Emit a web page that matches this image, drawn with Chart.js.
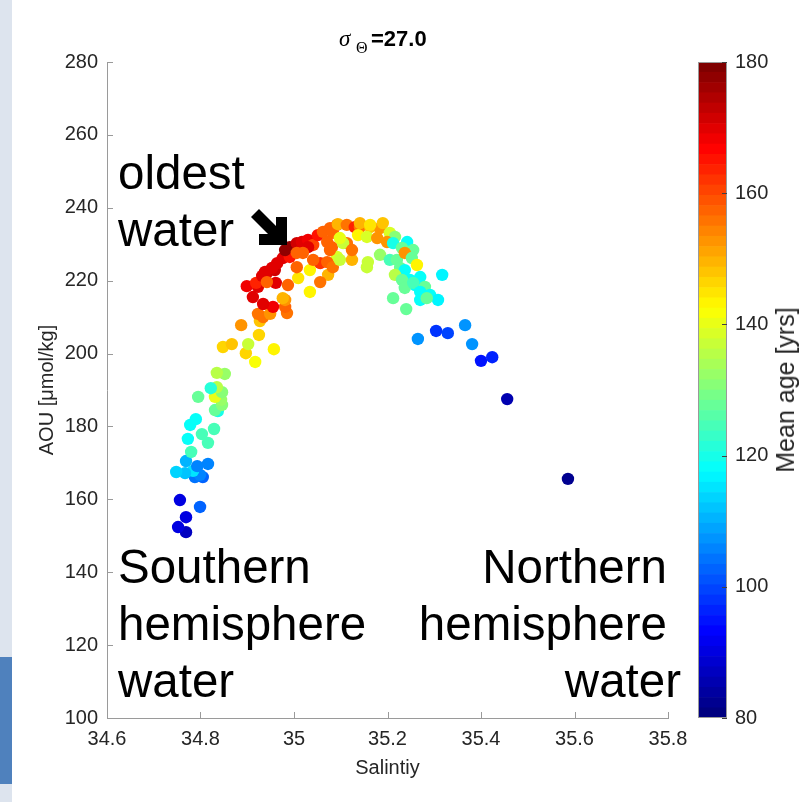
<!DOCTYPE html>
<html><head><meta charset="utf-8">
<script src="https://cdn.jsdelivr.net/npm/chart.js@4.4.0/dist/chart.umd.min.js"></script>
<style>
html,body{margin:0;padding:0;background:#fff;width:810px;height:802px;overflow:hidden;position:relative;font-family:"Liberation Sans",Arial,sans-serif}
#strip{position:absolute;left:0;top:0;width:12px;height:802px;background:#dde4ee}
#blue{position:absolute;left:0;top:657px;width:12px;height:127px;background:#4f81bd}
#mainWrap{position:absolute;left:0;top:0;width:810px;height:802px}
#cbWrap{position:absolute;left:690px;top:0;width:120px;height:802px}
.ann{position:absolute;font-size:47.5px;line-height:57px;color:#000;white-space:nowrap}
.t{position:absolute;white-space:nowrap;color:#000}
#cblab{position:absolute;left:785px;top:390px;transform:translate(-50%,-50%) rotate(-90deg);font-size:25px;color:#262626;white-space:nowrap;line-height:30px}
#arrow{position:absolute;left:251px;top:209px;width:36px;height:36px}
</style></head>
<body>
<div id="strip"></div><div id="blue"></div>
<div id="mainWrap"><canvas id="c1"></canvas></div>
<div id="cbWrap"><canvas id="c2"></canvas></div>
<div class="t" style="left:339px;top:28px;font:italic 23px/22px 'Liberation Serif',serif">σ</div>
<div class="t" style="left:356px;top:39.6px;font:16px/16px 'Liberation Serif',serif">Θ</div>
<div class="t" style="left:371px;top:28.4px;font:bold 22px/22px 'Liberation Sans',Arial,sans-serif">=27.0</div>
<div class="ann" style="left:118px;top:144px">oldest<br>water</div>
<svg id="arrow" viewBox="0 0 36 36"><polygon points="0,8 8,0 25,17 25,8 36,8 36,36 8,36 8,25 17,25" fill="#000"/></svg>
<div class="ann" style="left:118px;top:538px">Southern<br>hemisphere<br>water</div>
<div class="ann" style="right:143px;top:538px;text-align:right">Northern<br>hemisphere</div>
<div class="ann" style="right:129px;top:652px;text-align:right">water</div>
<div id="cblab">Mean age [yrs]</div>
<script>
// ---- data ----
const salinity = [34.769,34.752,34.769,34.756,34.799,34.805,34.788,34.799,34.784,34.767,34.748,34.816,34.793,34.769,34.780,34.816,34.773,34.803,34.829,34.778,34.790,34.837,34.831,34.846,34.844,34.831,34.795,34.846,34.835,34.822,34.852,34.835,
34.848,34.867,34.897,34.902,34.917,34.957,34.925,34.887,34.927,34.923,34.934,34.949,34.985,34.981,34.981,34.955,34.934,34.912,34.899,34.923,34.919,34.932,34.942,34.959,34.961,34.938,34.964,34.976,34.991,34.981,34.991,35.006,35.017,35.030,35.041,35.051,35.062,35.077,35.092,35.083,35.071,35.081,35.092,35.030,35.019,35.006,34.953,35.034,35.009,35.034,35.073,35.056,35.056,35.041,35.071,35.083,34.976,34.987,34.942,35.006,
35.094,35.113,35.130,35.141,35.163,35.184,35.141,35.163,35.190,35.205,35.216,35.242,35.255,35.137,35.156,35.178,35.199,35.212,35.231,35.244,35.113,35.105,35.098,35.124,35.077,35.124,35.158,35.156,35.184,35.205,35.220,35.237,35.252,35.263,35.227,35.237,35.216,35.248,35.270,35.317,35.231,35.259,35.237,35.280,35.255,35.270,35.291,35.270,35.308,35.212,35.240,35.284,
35.304,35.329,35.366,35.265,35.381,35.400,35.424,35.456,35.586,35.098];
const aou = [151.0,152.4,155.1,159.8,157.9,166.1,166.1,166.7,167.8,167.2,167.5,169.7,169.1,170.5,173.0,175.5,176.6,177.9,179.3,180.4,182.0,184.2,184.5,185.9,187.3,188.1,188.1,189.4,190.8,190.5,194.4,194.7,
201.8,202.6,200.1,202.6,197.7,201.2,205.1,207.8,208.9,210.9,210.0,210.9,211.1,212.8,214.7,212.8,213.6,215.5,218.5,218.3,219.4,221.3,222.1,222.9,219.4,222.4,224.8,226.2,226.5,228.4,229.2,230.3,230.6,231.2,229.8,232.5,233.4,234.4,235.3,233.1,230.6,229.2,226.5,229.2,227.6,227.6,223.5,222.9,220.7,216.9,221.6,219.6,224.8,225.7,225.1,223.7,215.2,218.8,219.6,223.7,
235.5,235.3,234.7,234.7,234.7,234.4,235.8,235.3,235.8,233.1,232.0,230.6,228.4,232.5,232.0,231.7,230.6,230.3,229.0,227.9,230.3,230.3,225.7,225.7,228.4,228.4,225.1,223.7,227.1,225.7,225.7,227.6,226.2,224.3,223.5,222.9,221.6,220.2,221.0,221.6,220.2,218.8,218.0,218.3,219.4,216.9,216.1,214.7,214.7,215.2,212.2,215.2,
206.2,205.6,207.8,204.0,202.6,198.0,199.0,187.5,165.6,231.7];
const meanAge = [87,90,90,90,102,103,104,105,115,112,113,106,106,110,125,124,118,125,125,118,118,120,128,130,132,140,127,130,135,122,132,135,
147,148,147,137,142,143,147,152,148,155,155,152,155,157,152,168,170,170,168,170,163,170,170,172,170,170,170,170,165,178,178,172,170,168,160,165,158,158,157,158,157,158,138,170,158,157,170,143,145,143,150,155,162,158,157,155,150,157,157,158,
150,155,163,155,148,153,150,145,148,138,130,118,128,143,138,153,153,120,128,128,155,137,137,150,157,155,137,137,133,125,128,152,127,143,128,118,135,118,118,117,128,118,128,128,125,118,118,118,117,127,128,127,
98,100,108,108,107,95,97,85,82,140];
const xTicks = [34.6,34.8,35.0,35.2,35.4,35.6,35.8];
const xTickLabels = ['34.6','34.8','35','35.2','35.4','35.6','35.8'];
const yTicks = [100,120,140,160,180,200,220,240,260,280];
const cTicks = [80,100,120,140,160,180];
const ageMin = 80, ageMax = 180, nColors = 64;

// ---- jet colormap ----
function jet(t){
  const c = v => Math.max(0, Math.min(1, v));
  const r = c(1.5 - Math.abs(4*t - 3)), g = c(1.5 - Math.abs(4*t - 2)), b = c(1.5 - Math.abs(4*t - 1));
  return 'rgb(' + Math.round(255*r) + ',' + Math.round(255*g) + ',' + Math.round(255*b) + ')';
}
function ageColor(a){
  let i = Math.floor((a - ageMin) / (ageMax - ageMin) * nColors);
  i = Math.max(0, Math.min(nColors - 1, i));
  return jet(i / (nColors - 1));
}

Chart.defaults.font.family = "'Liberation Sans', Arial, sans-serif";
const AXC = '#9a9a9a', TXT = '#262626';

const points = salinity.map((s, i) => ({x: s, y: aou[i]}));
const colors = meanAge.map(ageColor);

const inTicks = {
  id: 'inTicks',
  afterDraw(chart){
    const {ctx, chartArea: a, scales: {x, y}} = chart;
    ctx.save(); ctx.strokeStyle = AXC; ctx.lineWidth = 1;
    x.ticks.forEach(t => { const p = Math.round(x.getPixelForValue(t.value)) + 0.5; ctx.beginPath(); ctx.moveTo(p, a.bottom); ctx.lineTo(p, a.bottom - 6); ctx.stroke(); });
    y.ticks.forEach(t => { const p = Math.round(y.getPixelForValue(t.value)) + 0.5; ctx.beginPath(); ctx.moveTo(a.left, p); ctx.lineTo(a.left + 6, p); ctx.stroke(); });
    ctx.restore();
  }
};

new Chart(document.getElementById('c1'), {
  type: 'scatter',
  data: { datasets: [{ data: points, pointBackgroundColor: colors, pointBorderWidth: 0, pointRadius: 6.2, pointHoverRadius: 6.2, showLine: false }] },
  options: {
    responsive: true, maintainAspectRatio: false, animation: false,
    layout: { padding: { left: 0, top: 62, right: 142, bottom: 0 } },
    plugins: { legend: { display: false }, tooltip: { enabled: false } },
    scales: {
      x: {
        type: 'linear', position: 'bottom', min: 34.6, max: 35.8,
        afterBuildTicks: s => { s.ticks = xTicks.map(v => ({value: v})); },
        ticks: { callback: (v, i) => xTickLabels[i], font: { size: 20 }, color: TXT, padding: 9, maxRotation: 0, autoSkip: false },
        grid: { display: true, drawOnChartArea: false, drawTicks: false },
        border: { display: true, color: AXC, width: 1 },
        title: { display: true, text: 'Salintiy', font: { size: 20 }, color: TXT, padding: { top: 0, bottom: 22 } },
        afterFit: s => { s.height = 84; s.paddingLeft = 0; s.paddingRight = 0; }
      },
      y: {
        type: 'linear', position: 'left', min: 100, max: 280,
        afterBuildTicks: s => { s.ticks = yTicks.map(v => ({value: v})); },
        ticks: { callback: v => String(v), font: { size: 20 }, color: TXT, padding: 9, autoSkip: false },
        grid: { display: true, drawOnChartArea: false, drawTicks: false },
        border: { display: true, color: AXC, width: 1 },
        title: { display: true, text: 'AOU [μmol/kg]', font: { size: 20 }, color: TXT, padding: { top: 35, bottom: 0 } },
        afterFit: s => { s.width = 107; s.paddingTop = 0; s.paddingBottom = 0; }
      }
    }
  },
  plugins: [inTicks]
});

// ---- colorbar ----
const cbDatasets = [];
for (let i = 0; i < nColors; i++) {
  const lo = ageMin + i * (ageMax - ageMin) / nColors, hi = ageMin + (i + 1) * (ageMax - ageMin) / nColors;
  cbDatasets.push({ data: [[lo, hi]], backgroundColor: jet(i / (nColors - 1)), borderWidth: 0, grouped: false, barPercentage: 1, categoryPercentage: 1 });
}
const cbFrame = {
  id: 'cbFrame',
  afterDraw(chart){
    const {ctx, chartArea: a, scales: {y}} = chart;
    ctx.save(); ctx.strokeStyle = AXC; ctx.lineWidth = 1;
    ctx.strokeRect(Math.round(a.left) + 0.5, Math.round(a.top) + 0.5, Math.round(a.right - a.left) - 1, Math.round(a.bottom - a.top) - 1);
    ctx.strokeStyle = '#404040';
    y.ticks.forEach(t => { const p = Math.round(y.getPixelForValue(t.value)) + 0.5; ctx.beginPath(); ctx.moveTo(a.right, p); ctx.lineTo(a.right - 5, p); ctx.stroke(); });
    ctx.restore();
  }
};
new Chart(document.getElementById('c2'), {
  type: 'bar',
  data: { labels: [''], datasets: cbDatasets },
  options: {
    responsive: true, maintainAspectRatio: false, animation: false,
    layout: { padding: { left: 8, top: 62, right: 0, bottom: 84 } },
    plugins: { legend: { display: false }, tooltip: { enabled: false } },
    scales: {
      x: { display: false },
      y: {
        type: 'linear', position: 'right', min: 80, max: 180,
        afterBuildTicks: s => { s.ticks = cTicks.map(v => ({value: v})); },
        ticks: { callback: v => String(v), font: { size: 20 }, color: TXT, padding: 8 },
        grid: { display: false, drawTicks: false },
        border: { display: false },
        afterFit: s => { s.width = 83; s.paddingTop = 0; s.paddingBottom = 0; }
      }
    }
  },
  plugins: [cbFrame]
});
</script>
</body></html>
